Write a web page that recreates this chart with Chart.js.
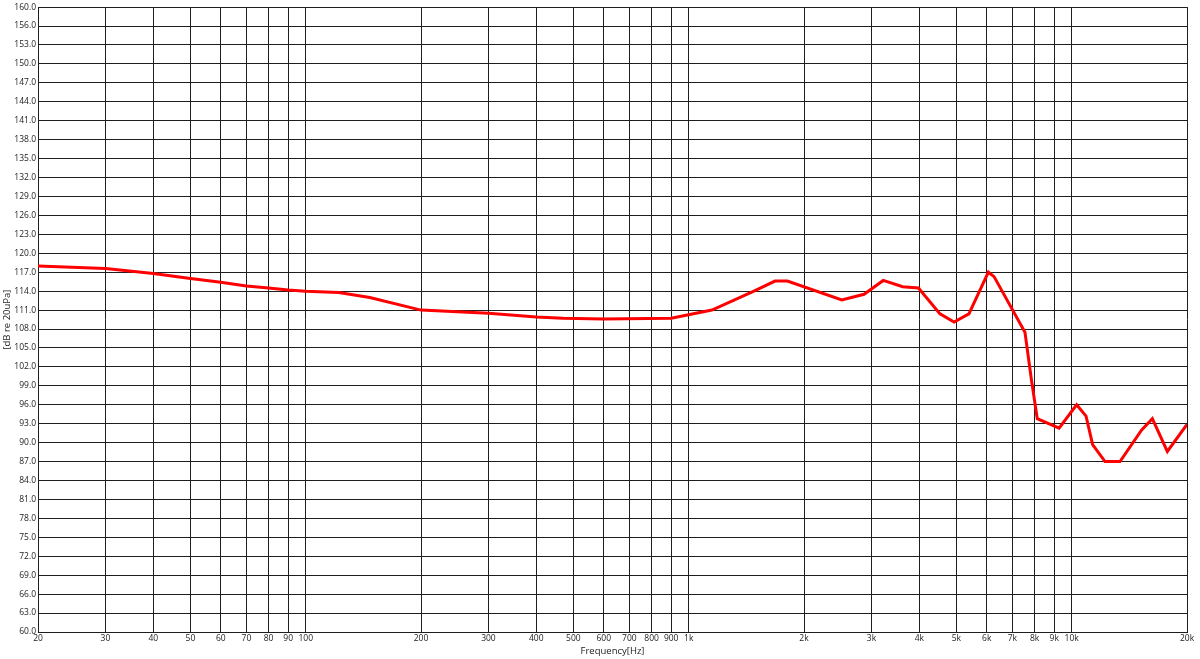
<!DOCTYPE html>
<html>
<head>
<meta charset="utf-8">
<script src="https://cdn.jsdelivr.net/npm/chart.js@4"></script>
<style>
html,body{margin:0;padding:0;background:#fff;}
#wrap{width:1200px;height:659px;position:relative;}
</style>
</head>
<body>
<div id="wrap"><canvas id="c"></canvas></div>
<script>
const freqs = [20, 30, 40, 50, 60, 70, 80, 90, 100, 122, 147, 200, 300, 400, 470, 600, 900, 1150, 1480, 1680, 1810, 2510, 2870, 3220, 3620, 3980, 4530, 4930, 5390, 6060, 6270, 7550, 7860, 8130, 9270, 10300, 10900, 11340, 12220, 13370, 15230, 16240, 17770, 20000];
const levels = [118.0, 117.6, 116.8, 116.0, 115.4, 114.8, 114.5, 114.2, 114.0, 113.8, 113.0, 111.0, 110.5, 109.9, 109.7, 109.6, 109.7, 111.0, 114.0, 115.6, 115.6, 112.6, 113.5, 115.7, 114.7, 114.5, 110.4, 109.1, 110.4, 117.0, 116.3, 107.5, 99.7, 93.8, 92.3, 96.0, 94.2, 89.7, 87.0, 87.0, 92.0, 93.8, 88.6, 92.9];

const xTickValues = [20,30,40,50,60,70,80,90,100,200,300,400,500,600,700,800,900,1000,2000,3000,4000,5000,6000,7000,8000,9000,10000,20000];
const xTickLabels = ['20','30','40','50','60','70','80','90','100','200','300','400','500','600','700','800','900','1k','2k','3k','4k','5k','6k','7k','8k','9k','10k','20k'];
const yTickValues = [60,63,66,69,72,75,78,81,84,87,90,93,96,99,102,105,108,111,114,117,120,123,126,129,132,135,138,141,144,147,150,153,156,159];
const yTickLabels = ['60.0','63.0','66.0','69.0','72.0','75.0','78.0','81.0','84.0','87.0','90.0','93.0','96.0','99.0','102.0','105.0','108.0','111.0','114.0','117.0','120.0','123.0','126.0','129.0','132.0','135.0','138.0','141.0','144.0','147.0','150.0','153.0','156.0','160.0'];

const points = freqs.map((f, i) => ({x: f, y: levels[i]}));
const gridColor = '#1e1e1e';
const tickFont = {family: 'Open Sans', size: 8.5};

new Chart(document.getElementById('c'), {
  type: 'line',
  data: {
    datasets: [{
      data: points,
      borderColor: '#ff0000',
      borderWidth: 3,
      pointRadius: 0,
      tension: 0,
      fill: false
    }]
  },
  options: {
    responsive: true,
    maintainAspectRatio: false,
    animation: false,
    layout: {padding: {top: 7, right: 13, left: 0, bottom: 0}},
    plugins: {legend: {display: false}, tooltip: {enabled: false}},
    scales: {
      x: {
        type: 'logarithmic',
        min: 20,
        max: 20000,
        afterBuildTicks: s => { s.ticks = xTickValues.map(v => ({value: v})); },
        afterFit: s => { s.height = 27; },
        ticks: {
          autoSkip: false, maxRotation: 0, padding: 1,
          color: '#222', font: tickFont,
          callback: (v, i) => xTickLabels[i]
        },
        grid: {color: gridColor, lineWidth: 1, drawTicks: false},
        border: {color: gridColor, width: 1},
        title: {display: true, text: 'Frequency[Hz]', color: '#222', font: {family: 'Open Sans', size: 9.5}, padding: {top: 2, bottom: 2}}
      },
      y: {
        type: 'linear',
        min: 60,
        max: 159,
        afterBuildTicks: s => { s.ticks = yTickValues.map(v => ({value: v})); },
        afterFit: s => { s.width = 38; },
        ticks: {
          autoSkip: false, padding: 2,
          color: '#222', font: tickFont,
          callback: (v, i) => yTickLabels[i]
        },
        grid: {color: gridColor, lineWidth: 1, drawTicks: false},
        border: {color: gridColor, width: 1},
        title: {display: true, text: '[dB re 20uPa]', color: '#222', font: {family: 'Open Sans', size: 9.5}, padding: {top: 2, bottom: 2}}
      }
    }
  }
});
</script>
</body>
</html>
